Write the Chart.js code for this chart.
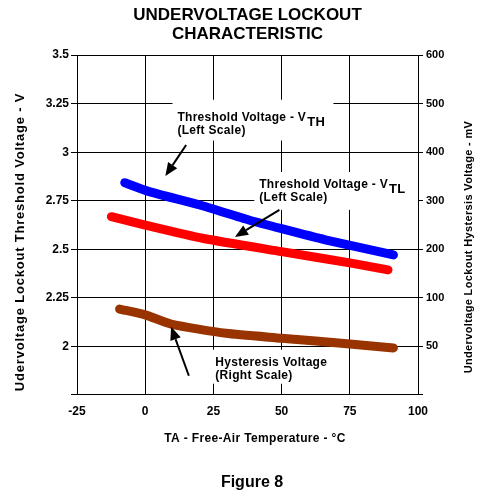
<!DOCTYPE html>
<html>
<head>
<meta charset="utf-8">
<script src="https://cdn.jsdelivr.net/npm/chart.js@4/dist/chart.umd.min.js"></script>
<style>
  html, body { margin: 0; padding: 0; background: #fff; }
</style>
</head>
<body>
<canvas id="uvloChart" width="481" height="500"></canvas>
<script>
const FONT = "'Liberation Sans', Arial, Helvetica, sans-serif";

const leftTickLabels = ['', '2', '2.25', '2.5', '2.75', '3', '3.25', '3.5'];
const rightTickLabels = ['', '50', '100', '200', '300', '400', '500', '600'];

// Threshold Voltage - VTH (левая шкала, В)
const vthTemps = [-7.5, 1.5, 20, 38, 50, 66, 91];
const vthVolts = [2.843, 2.797, 2.728, 2.651, 2.606, 2.549, 2.471];

// Threshold Voltage - VTL (левая шкала, В)
const vtlTemps = [-12.4, 0, 21, 50, 75, 89];
const vtlVolts = [2.668, 2.625, 2.557, 2.488, 2.43, 2.394];

// Hysteresis Voltage (правая шкала, мВ)
const hystTemps = [-9.4, 0, 9.5, 29.6, 50, 75, 91];
const hystMv = [77, 65, 46, 27, 17, 5, -3];

function toPoints(xs, ys) {
  return xs.map((x, i) => ({ x: x, y: ys[i] }));
}

// подписи со стрелками, в координатах данных
const notes = [
  { lines: ['Threshold Voltage - V', '(Left Scale)'], sub: 'TH', at: [11.8, 3.176], box: [10, 69, 3.27, 3.06],
    arrow: [15, 3.037, 7.4, 2.878] },
  { lines: ['Threshold Voltage - V', '(Left Scale)'], sub: 'TL', at: [41.8, 2.831], box: [40, 100, 2.898, 2.703],
    arrow: [49.2, 2.703, 32.9, 2.564] },
  { lines: ['Hysteresis Voltage', '(Right Scale)'], at: [25.7, 1.916], box: [24, 57, 1.983, 1.808],
    arrow: [16, 1.849, 9.5, 2.101] }
];

function rotatedText(ctx, text, x, y) {
  ctx.save();
  ctx.translate(x, y);
  ctx.rotate(-Math.PI / 2);
  ctx.fillText(text, 0, 0);
  ctx.restore();
}

const notesPlugin = {
  id: 'notes',
  beforeDatasetsDraw(chart) {
    const ctx = chart.ctx, sx = chart.scales.x, sy = chart.scales.y;
    ctx.save();
    ctx.fillStyle = '#fff';
    notes.forEach(n => {
      const x0 = sx.getPixelForValue(n.box[0]), x1 = sx.getPixelForValue(n.box[1]);
      const y0 = sy.getPixelForValue(n.box[2]), y1 = sy.getPixelForValue(n.box[3]);
      ctx.fillRect(x0, y0, x1 - x0, y1 - y0);
    });
    ctx.restore();
  },
  afterDatasetsDraw(chart) {
    const ctx = chart.ctx, sx = chart.scales.x, sy = chart.scales.y;
    ctx.save();
    ctx.fillStyle = '#000';
    ctx.strokeStyle = '#000';
    ctx.textBaseline = 'middle';
    ctx.textAlign = 'left';
    notes.forEach(n => {
      const tx = sx.getPixelForValue(n.at[0]), ty = sy.getPixelForValue(n.at[1]);
      ctx.letterSpacing = '0.3px';
      ctx.font = 'bold 12px ' + FONT;
      ctx.fillText(n.lines[0], tx, ty);
      if (n.sub) {
        const w = ctx.measureText(n.lines[0]).width;
        ctx.font = 'bold 13px ' + FONT;
        ctx.fillText(n.sub, tx + w + 1, ty + 4);
        ctx.font = 'bold 12px ' + FONT;
      }
      ctx.fillText(n.lines[1], tx, ty + 13);

      // стрелка
      const ax = sx.getPixelForValue(n.arrow[0]), ay = sy.getPixelForValue(n.arrow[1]);
      const bx = sx.getPixelForValue(n.arrow[2]), by = sy.getPixelForValue(n.arrow[3]);
      const ang = Math.atan2(by - ay, bx - ax);
      const head = 13, half = 5.5;
      ctx.lineWidth = 2;
      ctx.beginPath();
      ctx.moveTo(ax, ay);
      ctx.lineTo(bx - Math.cos(ang) * head, by - Math.sin(ang) * head);
      ctx.stroke();
      ctx.beginPath();
      ctx.moveTo(bx, by);
      ctx.lineTo(bx - Math.cos(ang) * head - Math.sin(ang) * half, by - Math.sin(ang) * head + Math.cos(ang) * half);
      ctx.lineTo(bx - Math.cos(ang) * head + Math.sin(ang) * half, by - Math.sin(ang) * head - Math.cos(ang) * half);
      ctx.closePath();
      ctx.fill();
    });

    // подписи осей и номер рисунка
    ctx.textAlign = 'center';
    ctx.letterSpacing = '0.35px';
    ctx.font = 'bold 12px ' + FONT;
    ctx.fillText('TA - Free-Air Temperature - \u00B0C', 255, 439);

    ctx.letterSpacing = '0px';
    ctx.font = 'bold 16px ' + FONT;
    ctx.fillText('Figure 8', 252, 483);

    ctx.letterSpacing = '0.8px';
    ctx.font = 'bold 13px ' + FONT;
    rotatedText(ctx, 'Udervoltage Lockout Threshold Voltage - V', 20, 242);

    ctx.letterSpacing = '0.35px';
    ctx.font = 'bold 11px ' + FONT;
    rotatedText(ctx, 'Undervoltage Lockout Hystersis Voltage - mV', 469, 247);
    ctx.restore();
  }
};

const tickFont = { family: FONT, size: 12, weight: 'bold' };

const ctx = document.getElementById('uvloChart').getContext('2d');
const uvloChart = new Chart(ctx, {
  type: 'line',
  data: {
    datasets: [
      {
        label: 'VTH',
        data: toPoints(vthTemps, vthVolts),
        borderColor: '#0000ff',
        yAxisID: 'y'
      },
      {
        label: 'VTL',
        data: toPoints(vtlTemps, vtlVolts),
        borderColor: '#ff0000',
        yAxisID: 'y'
      },
      {
        label: 'Hysteresis',
        data: toPoints(hystTemps, hystMv),
        borderColor: '#993300',
        yAxisID: 'y1'
      }
    ]
  },
  options: {
    responsive: false,
    animation: false,
    elements: {
      line: { borderWidth: 9, borderCapStyle: 'round', borderJoinStyle: 'round', tension: 0.2 },
      point: { radius: 0 }
    },
    layout: { padding: { left: 0, right: 0, top: 0, bottom: 45 } },
    plugins: {
      legend: { display: false },
      tooltip: { enabled: false },
      title: {
        display: true,
        fullSize: false,
        text: ['UNDERVOLTAGE LOCKOUT', 'CHARACTERISTIC'],
        color: '#000',
        font: { family: FONT, size: 17, weight: 'bold', lineHeight: 1.12 },
        padding: { top: 5.5, bottom: 11.5 }
      }
    },
    scales: {
      x: {
        type: 'linear',
        min: -25,
        max: 100,
        ticks: { stepSize: 25, color: '#000', font: tickFont, padding: 9 },
        grid: { color: '#000', lineWidth: 1, drawTicks: false },
        border: { color: '#000', width: 1 },
        afterFit(s) { s.height = 60; }
      },
      y: {
        position: 'left',
        min: 1.75,
        max: 3.5,
        ticks: {
          stepSize: 0.25, color: '#000', font: tickFont, padding: 2,
          callback: (v, i) => leftTickLabels[i]
        },
        grid: { color: '#000', lineWidth: 1, tickLength: 6 },
        border: { color: '#000', width: 1 },
        afterFit(s) { s.width = 77; }
      },
      y1: {
        position: 'right',
        min: -100,
        max: 600,
        ticks: {
          stepSize: 100, color: '#000', font: { family: FONT, size: 11, weight: 'bold' }, padding: 3,
          callback: (v, i) => rightTickLabels[i]
        },
        grid: { drawOnChartArea: false, color: '#000', lineWidth: 1, tickLength: 5 },
        border: { color: '#000', width: 1 },
        afterFit(s) { s.width = 63; }
      }
    }
  },
  plugins: [notesPlugin]
});
</script>
</body>
</html>
